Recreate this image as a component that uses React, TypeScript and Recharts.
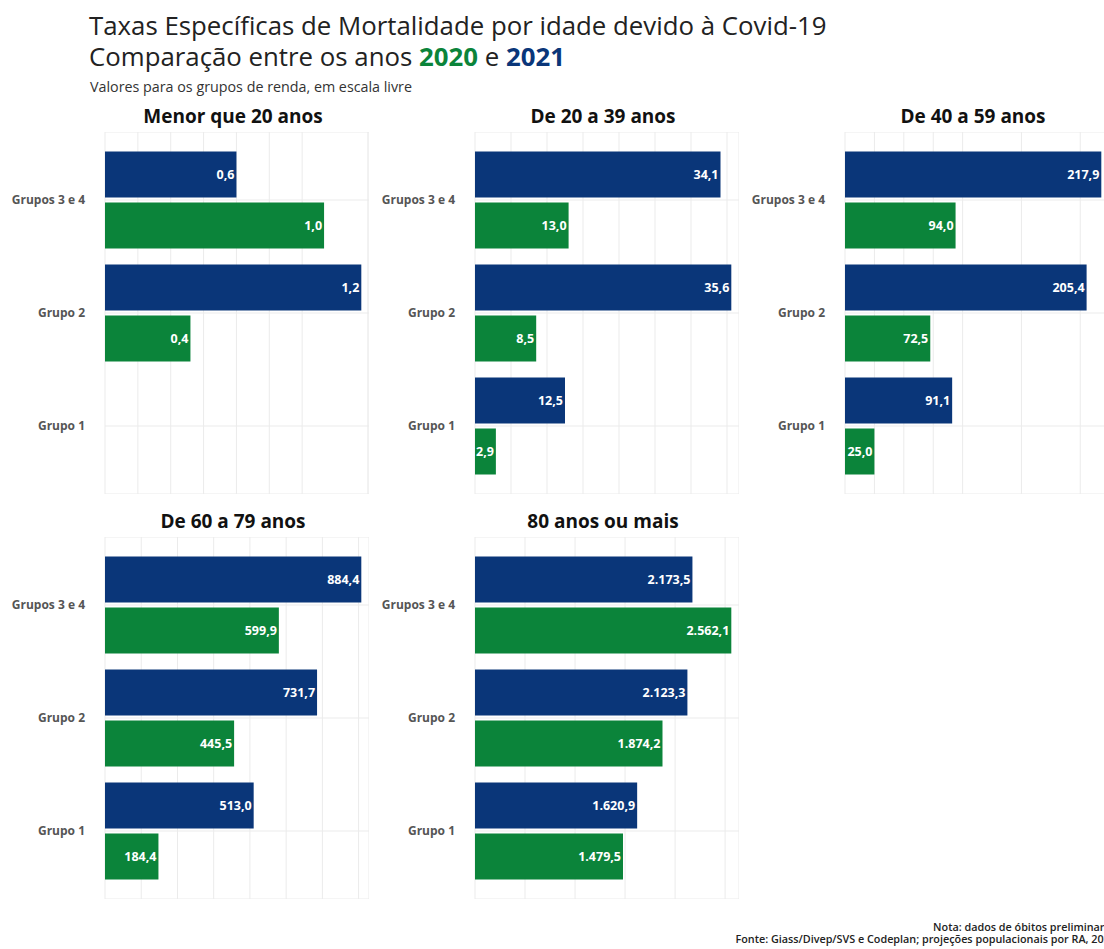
import { BarChart, Bar, XAxis, YAxis, CartesianGrid, LabelList } from 'recharts'

const grupos = ['Grupos 3 e 4', 'Grupo 2', 'Grupo 1']
const faixas = ['Menor que 20 anos', 'De 20 a 39 anos', 'De 40 a 59 anos', 'De 60 a 79 anos', '80 anos ou mais']

// one row per age band, values in group order (Grupos 3 e 4, Grupo 2, Grupo 1)
const taxas2020: (number | null)[][] = [
  [1.0, 0.39, null],
  [13.0, 8.5, 2.9],
  [94.0, 72.5, 25.0],
  [599.9, 445.5, 184.4],
  [2562.1, 1874.2, 1479.5],
]
const taxas2021: (number | null)[][] = [
  [0.6, 1.17, null],
  [34.1, 35.6, 12.5],
  [217.9, 205.4, 91.1],
  [884.4, 731.7, 513.0],
  [2173.5, 2123.3, 1620.9],
]
const gridSteps = [0.15, 5, 25, 125, 500]

const AZUL = '#0A3679'
const VERDE = '#0B843A'
const FONT = '"Open Sans", "Noto Sans", sans-serif'

const PLOT_W = 264
const PLOT_H = 362
const AXIS_W = 105
const colLeft = [0, 370, 740]
const rowTop = [132, 537]

function fmt(v: any) {
  if (v === null || v === undefined) return ''
  const [int, dec] = Number(v).toFixed(1).split('.')
  return int.replace(/\B(?=(\d{3})+(?!\d))/g, '.') + ',' + dec
}

function Painel({ idx }: { idx: number }) {
  const data = grupos.map((g, i) => ({ grupo: g, a2020: taxas2020[idx][i], a2021: taxas2021[idx][i] }))
  const maxV = Math.max(...taxas2020[idx].concat(taxas2021[idx]).map((v) => v ?? 0))
  const top = maxV * 1.03
  const step = gridSteps[idx]
  const ticks: number[] = []
  for (let k = 0; k * step <= top + 1e-9; k++) ticks.push(+(k * step).toFixed(4))

  const col = idx % 3
  const row = Math.floor(idx / 3)
  const left = colLeft[col]
  const y = rowTop[row]

  return (
    <>
      <div
        style={{
          position: 'absolute',
          left: left + AXIS_W - 4,
          width: PLOT_W,
          top: y - 27,
          textAlign: 'center',
          fontFamily: FONT,
          fontWeight: 700,
          fontSize: 19,
          color: '#111',
          lineHeight: '22px',
        }}
      >
        {faixas[idx]}
      </div>
      <div style={{ position: 'absolute', left, top: y }}>
        <BarChart
          width={AXIS_W + PLOT_W}
          height={PLOT_H}
          data={data}
          layout="vertical"
          margin={{ top: 0, right: 0, bottom: 0, left: 0 }}
          barSize={46}
          barGap={5}
        >
          <CartesianGrid stroke="#ebebeb" strokeWidth={1} />
          <XAxis type="number" domain={[0, top]} ticks={ticks} hide allowDataOverflow />
          <YAxis
            type="category"
            dataKey="grupo"
            width={AXIS_W}
            axisLine={false}
            tickLine={false}
            tickSize={0}
            tickMargin={20}
            padding={{ top: 11.5, bottom: 11.5 }}
            tick={{ fill: '#555', fontSize: 12, fontWeight: 700, fontFamily: FONT }}
          />
          <Bar dataKey="a2021" fill={AZUL} isAnimationActive={false}>
            <LabelList
              dataKey="a2021"
              position="insideRight"
              offset={2}
              formatter={fmt}
              style={{ fill: '#fff', fontSize: 12.5, fontWeight: 700, fontFamily: FONT }}
            />
          </Bar>
          <Bar dataKey="a2020" fill={VERDE} isAnimationActive={false}>
            <LabelList
              dataKey="a2020"
              position="insideRight"
              offset={2}
              formatter={fmt}
              style={{ fill: '#fff', fontSize: 12.5, fontWeight: 700, fontFamily: FONT }}
            />
          </Bar>
        </BarChart>
      </div>
    </>
  )
}

export default function App() {
  return (
    <div
      style={{
        position: 'absolute',
        left: 0,
        top: 0,
        width: 1104,
        height: 949,
        overflow: 'hidden',
        background: '#fff',
        fontFamily: FONT,
      }}
    >
      <div style={{ position: 'absolute', left: 89, top: 10, fontSize: 25.8, lineHeight: '31px', color: '#222' }}>
        <div>Taxas Específicas de Mortalidade por idade devido à Covid-19</div>
        <div>
          Comparação entre os anos <b style={{ color: VERDE }}>2020</b> e <b style={{ color: AZUL }}>2021</b>
        </div>
      </div>
      <div style={{ position: 'absolute', left: 90, top: 77, fontSize: 14.3, color: '#333' }}>
        Valores para os grupos de renda, em escala livre
      </div>

      {faixas.map((_, i) => (
        <Painel key={i} idx={i} />
      ))}

      <div
        style={{
          position: 'absolute',
          right: -12,
          top: 921,
          textAlign: 'right',
          fontSize: 10.8,
          fontWeight: 600,
          lineHeight: '12px',
          color: '#222',
          whiteSpace: 'nowrap',
        }}
      >
        <div>Nota: dados de óbitos preliminares</div>
        <div>Fonte: Giass/Divep/SVS e Codeplan; projeções populacionais por RA, 2020</div>
      </div>
    </div>
  )
}
